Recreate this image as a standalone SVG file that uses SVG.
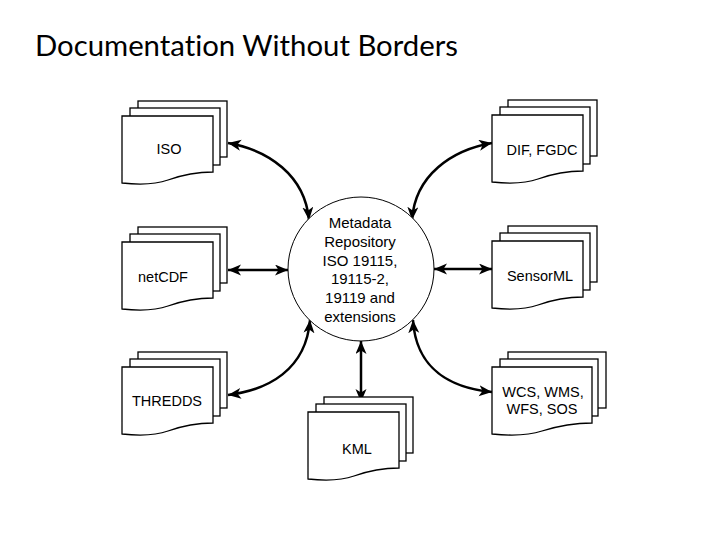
<svg xmlns="http://www.w3.org/2000/svg" xmlns:xlink="http://www.w3.org/1999/xlink" width="720" height="540" viewBox="0 0 720 540">
<style>
.pg{fill:#fff;stroke:#000;stroke-width:1.3}
.lbl{font-family:"Liberation Sans",Arial,sans-serif;font-size:14.5px;fill:#000;text-anchor:middle}
.ctr{font-family:"Liberation Sans",Arial,sans-serif;font-size:15px;fill:#000;text-anchor:middle}
.con{fill:none;stroke:#000;stroke-width:2.5;marker-start:url(#arr);marker-end:url(#arr)}
.title{font-family:Lato,"Open Sans",sans-serif;font-size:29px;fill:#000;font-variant-ligatures:none;font-feature-settings:"liga" 0}
</style>
<defs>
<marker id="arr" markerUnits="userSpaceOnUse" markerWidth="14" markerHeight="12" refX="13" refY="5.5" orient="auto-start-reverse" viewBox="0 0 14 12">
<path d="M0,0 L13,5.5 L0,11 L3.5,5.5 Z" fill="#000"/>
</marker>
<g id="stack">
<rect class="pg" x="16" y="-15" width="89" height="56"/>
<rect class="pg" x="8" y="-8" width="90" height="57"/>
<path class="pg" d="M0,0 H91 V56 C75,56 60,59 46,64 C32,69 18,69 0,67 Z"/>
</g>
<g id="stackWide">
<rect class="pg" x="16" y="-15" width="98" height="56"/>
<rect class="pg" x="8" y="-8" width="98" height="57"/>
<path class="pg" d="M0,0 H100 V56 C82,56 66,59 50,64 C35,69 20,69 0,67 Z"/>
</g>
</defs>
<rect width="720" height="540" fill="#fff"/>
<text class="title" x="35" y="56" textLength="423" lengthAdjust="spacingAndGlyphs">Documentation Without Borders</text>

<g id="connectors">
<path class="con" d="M228,143 C268,150 305,175 309,220"/>
<path class="con" d="M492,143 C452,150 415,175 412,220"/>
<path class="con" d="M228,270 H288"/>
<path class="con" d="M492,269 H434"/>
<path class="con" d="M228,395 C268,390 306,370 310,320"/>
<path class="con" d="M492,392 C452,388 416,370 413,320"/>
<path class="con" d="M361,341 V402"/>
</g>

<g id="repository">
<ellipse cx="361" cy="269" rx="73" ry="72" fill="#fff" stroke="#000" stroke-width="1"/>
<text class="ctr" x="360" y="228">Metadata</text>
<text class="ctr" x="360" y="246.8">Repository</text>
<text class="ctr" x="360" y="265.6">ISO 19115,</text>
<text class="ctr" x="360" y="284.4">19115-2,</text>
<text class="ctr" x="360" y="303.2">19119 and</text>
<text class="ctr" x="360" y="322">extensions</text>
</g>

<g id="iso">
<use xlink:href="#stack" href="#stack" transform="translate(122,116)"/>
<text class="lbl" x="169" y="154">ISO</text>
</g>
<g id="netcdf">
<use xlink:href="#stack" href="#stack" transform="translate(122,242)"/>
<text class="lbl" x="163" y="282">netCDF</text>
</g>
<g id="thredds">
<use xlink:href="#stack" href="#stack" transform="translate(122,367)"/>
<text class="lbl" x="167" y="406">THREDDS</text>
</g>
<g id="dif-fgdc">
<use xlink:href="#stack" href="#stack" transform="translate(492,115)"/>
<text class="lbl" x="542" y="155">DIF, FGDC</text>
</g>
<g id="sensorml">
<use xlink:href="#stack" href="#stack" transform="translate(492,241)"/>
<text class="lbl" x="540" y="281">SensorML</text>
</g>
<g id="ogc">
<use xlink:href="#stackWide" href="#stackWide" transform="translate(492,367)"/>
<text class="lbl" x="543" y="397">WCS, WMS,</text>
<text class="lbl" x="542" y="414">WFS, SOS</text>
</g>
<g id="kml">
<use xlink:href="#stack" href="#stack" transform="translate(308,412)"/>
<text class="lbl" x="357" y="454">KML</text>
</g>
</svg>
